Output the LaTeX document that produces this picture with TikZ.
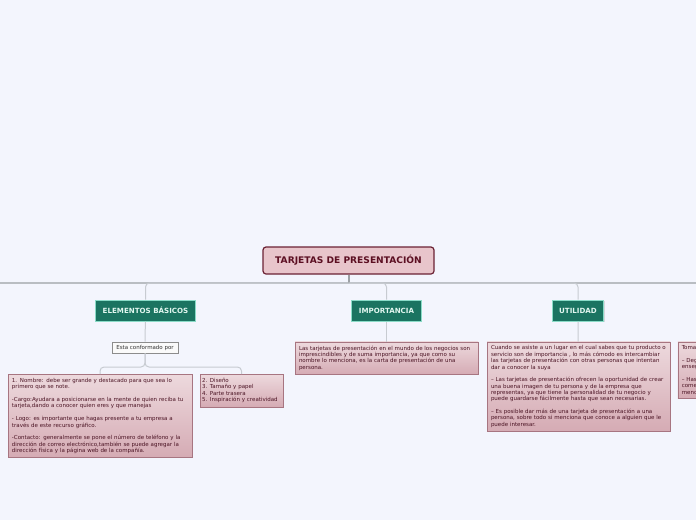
\documentclass[tikz,border=0pt]{standalone}
\usepackage{fontspec}
\setmainfont{DejaVu Sans}
\usetikzlibrary{positioning, shadows}

\definecolor{pagebg}{HTML}{F3F5FD}
\definecolor{rootfill}{HTML}{E8C5CB}
\definecolor{rootline}{HTML}{6B2234}
\definecolor{roottext}{HTML}{5C0F22}
\definecolor{topicfill}{HTML}{1B7461}
\definecolor{topicline}{HTML}{8ADBC7}
\definecolor{topictext}{HTML}{E2F7F0}
\definecolor{notetop}{HTML}{EDD9DD}
\definecolor{notebot}{HTML}{D5ABB4}
\definecolor{noteline}{HTML}{A77581}
\definecolor{notetext}{HTML}{4B1424}
\definecolor{busline}{HTML}{B9BDC2}
\definecolor{linkline}{HTML}{C7CBD1}

\begin{document}
\begin{tikzpicture}[
  x=1pt, y=-1pt,
  root/.style={rectangle, rounded corners=3pt, draw=rootline, line width=1.2pt, fill=rootfill, text=roottext, font=\fontsize{9.1}{10}\selectfont\bfseries, minimum width=171pt, minimum height=27pt},
  topic/.style={rectangle, draw=topicline, line width=1pt, fill=topicfill, text=topictext, font=\fontsize{7.1}{8}\selectfont\bfseries, minimum height=21pt, inner xsep=7pt, drop shadow={shadow xshift=0.8pt, shadow yshift=-0.8pt, opacity=0.25}},
  note/.style={rectangle, draw=noteline, line width=0.6pt, top color=notetop, bottom color=notebot, text=notetext, align=left, font=\fontsize{5.5}{6.36}\selectfont, inner xsep=4pt, inner ysep=4pt, drop shadow={shadow xshift=0.8pt, shadow yshift=-0.8pt, opacity=0.25}},
  lbl/.style={rectangle, draw=black!45, line width=0.6pt, fill=white!98!black, text=black!80, font=\fontsize{5.5}{6}\selectfont, minimum width=66pt, minimum height=11pt, inner sep=1pt},
  bus/.style={draw=busline, line width=2pt},
  link/.style={draw=linkline, line width=1pt, rounded corners=4pt}
]
\path[use as bounding box] (0,0) rectangle (696,520);
\fill[pagebg] (0,0) rectangle (696,520);
\clip (0,0) rectangle (696,520);

\node[root] (root) at (348.5,260.5) {TARJETAS DE PRESENTACIÓN};
\coordinate (busL) at (0,283);
\coordinate (busR) at (696,283);

\node[topic] (elem) at (145.5,310.5) {ELEMENTOS BÁSICOS};
\node[topic] (imp) at (386.5,310.5) {IMPORTANCIA};
\node[topic] (util) at (578,310.5) {UTILIDAD};

\node[lbl] (conf) at (145,347.5) {Esta conformado por};
\coordinate (split) at (145,367);

\node[note, text width=176pt, anchor=north] (nombre) at (100,374) {1. Nombre: debe ser grande y destacado para que sea lo\\
primero que se note.\\[6.36pt]
-Cargo:Ayudara a posicionarse en la mente de quien reciba tu\\
tarjeta,dando a conocer quien eres y que manejas\\[6.36pt]
- Logo: es importante que hagas presente a tu empresa a\\
través de este recurso gráfico.\\[6.36pt]
-Contacto: generalmente se pone el número de teléfono y la\\
dirección de correo electrónico,también se puede agregar la\\
dirección física y la página web de la compañía.};
\node[note, text width=79pt, inner xsep=2pt, anchor=north] (diseno) at (241.5,374) {2. Diseño\\
3. Tamaño y papel\\
4. Parte trasera\\
\mbox{5. Inspiración y creatividad}};

\node[note, text width=175pt, anchor=north] (impnote) at (386.5,341.5) {Las tarjetas de presentación en el mundo de los negocios son\\
imprescindibles y de suma importancia, ya que como su\\
nombre lo menciona, es la carta de presentación de una\\
persona.};

\node[note, text width=175pt, anchor=north] (utilnote) at (578.5,341.5) {Cuando se asiste a un lugar en el cual sabes que tu producto o\\
servicio son de importancia , lo más cómodo es intercambiar\\
las tarjetas de presentación con otras personas que intentan\\
dar a conocer la suya\\[6.36pt]
– Las tarjetas de presentación ofrecen la oportunidad de crear\\
una buena imagen de tu persona y de la empresa que\\
representas, ya que tiene la personalidad de tu negocio y\\
puede guardarse fácilmente hasta que sean necesarias.\\[6.36pt]
– Es posible dar más de una tarjeta de presentación a una\\
persona, sobre todo si menciona que conoce a alguien que le\\
puede interesar.};

\node[note, text width=175pt, anchor=north west] (toma) at (677.5,341.5) {Toma\\[6.36pt]
– Deg\\
enseg\\[6.36pt]
– Has\\
come\\
menc};

% connectors
\draw[bus] (busL) -- (busR);
\draw[draw=busline!85!black, line width=2pt] (root.south) -- (root.south |- busL);
\draw[link] (root.south |- busL) -| (elem.north);
\draw[link] (root.south |- busL) -| (imp.north);
\draw[link] (root.south |- busL) -| (util.north);
\draw[link] (elem) -- (conf);
\draw[link] (conf.south) -- (split) -| (nombre.north);
\draw[link] (conf.south) -- (split) -| (diseno.north);
\draw[link] (imp) -- (impnote);
\draw[link] (util) -- (utilnote);

\end{tikzpicture}
\end{document}
